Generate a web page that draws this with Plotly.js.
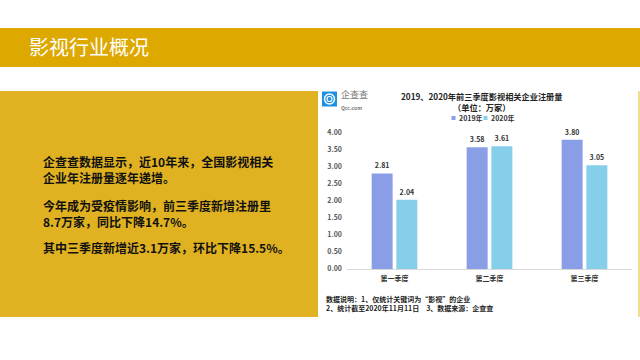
<!DOCTYPE html>
<html><head><meta charset="utf-8">
<script src="https://cdn.plot.ly/plotly-3.0.1.min.js"></script>
<style>html,body{margin:0;padding:0;background:#fff}#chart{width:640px;height:360px}</style>
</head><body><div id="chart"></div>
<script>
const categories = ['第一季度', '第二季度', '第三季度'];
const series2019 = [2.81, 3.58, 3.80];
const series2020 = [2.04, 3.61, 3.05];
const seriesNames = ['2019年', '2020年'];
const yTickVals = [0, 0.5, 1, 1.5, 2, 2.5, 3, 3.5, 4];
const chartTitle = '2019、2020年前三季度影视相关企业注册量';
const chartSubtitle = '（单位：万家）';
const slideTitle = '影视行业概况';
const bodyParagraphs = [
  ['企查查数据显示，近10年来，全国影视相关', '企业年注册量逐年递增。'],
  ['今年成为受疫情影响，前三季度新增注册里', '8.7万家，同比下降14.7%。'],
  ['其中三季度新增近3.1万家，环比下降15.5%。']
];
const noteLines = [
  '数据说明：1、仅统计关键词为“影视”的企业',
  '2、统计截至2020年11月11日　3、数据来源：企查查'
];

const W = 640, H = 360;
const px = x => x / W;
const py = y => 1 - y / H;
const colors = ['#8A9EE8', '#86CFEB'];
const FONT = '"Noto Sans CJK SC", "Noto Sans", sans-serif';

const traces = [
  {type: 'bar', name: seriesNames[0], x: categories, y: series2019,
   marker: {color: colors[0]}, text: series2019.map(v => v.toFixed(2)),
   textposition: 'outside', cliponaxis: false,
   textfont: {family: FONT, size: 7, color: '#333', weight: 'bold'}, hoverinfo: 'none'},
  {type: 'bar', name: seriesNames[1], x: categories, y: series2020,
   marker: {color: colors[1]}, text: series2020.map(v => v.toFixed(2)),
   textposition: 'outside', cliponaxis: false,
   textfont: {family: FONT, size: 7, color: '#333', weight: 'bold'}, hoverinfo: 'none'}
];

const shapes = [
  {type: 'rect', xref: 'paper', yref: 'paper', x0: 0, x1: 1, y0: py(67), y1: py(28),
   fillcolor: '#DDA800', line: {width: 0}, layer: 'below'},
  {type: 'rect', xref: 'paper', yref: 'paper', x0: 0, x1: px(318), y0: py(317), y1: py(91),
   fillcolor: '#E0B222', line: {width: 0}, layer: 'below'},
  {type: 'line', xref: 'paper', yref: 'paper', x0: px(639), x1: px(639), y0: py(317), y1: py(91),
   line: {color: '#E8D46A', width: 1.5}, layer: 'below'},
  // logo
  {type: 'rect', xref: 'paper', yref: 'paper', x0: px(322), x1: px(337), y0: py(106.5), y1: py(91.5),
   fillcolor: '#1E90E2', line: {width: 0}},
  {type: 'circle', xref: 'paper', yref: 'paper', x0: px(324.5), x1: px(334.5), y0: py(104), y1: py(94),
   line: {color: '#fff', width: 1.4}},
  {type: 'circle', xref: 'paper', yref: 'paper', x0: px(327), x1: px(332), y0: py(101.5), y1: py(96.5),
   line: {color: '#fff', width: 1.2}},
  // legend swatches
  {type: 'rect', xref: 'paper', yref: 'paper', x0: px(451.5), x1: px(455.5), y0: py(120), y1: py(116),
   fillcolor: colors[0], line: {width: 0}},
  {type: 'rect', xref: 'paper', yref: 'paper', x0: px(483.5), x1: px(487.5), y0: py(120), y1: py(116),
   fillcolor: colors[1], line: {width: 0}}
];

const ann = (x, y, text, opts = {}) => Object.assign({
  xref: 'paper', yref: 'paper', x: px(x), y: py(y), text: text, showarrow: false,
  xanchor: 'left', yanchor: 'middle', align: 'left'
}, opts);

const bodyY = [169, 213, 247];
const bodyFont = {family: FONT, size: 12, color: '#111', weight: 'bold'};
const smallBold = (size, color) => ({family: FONT, size: size, color: color, weight: 'bold'});

const annotations = [
  ann(27, 46.5, slideTitle, {font: {family: FONT, size: 20, color: '#fff'}}),
  ...bodyParagraphs.map((p, i) => ann(41, bodyY[i], p.join('<br>'), {font: bodyFont})),
  ann(481, 101, chartTitle + '<br>' + chartSubtitle,
      {xanchor: 'center', align: 'center', font: smallBold(8.2, '#222')}),
  ann(456.5, 118, seriesNames[0], {font: smallBold(7, '#333')}),
  ann(488.5, 118, seriesNames[1], {font: smallBold(7, '#333')}),
  ann(339, 99, '企查查<br><span style="font-size:5px;font-weight:bold">Qcc.com</span>',
      {font: {family: FONT, size: 9, color: '#777'}}),
  ann(324, 303.5, noteLines.join('<br>'), {font: smallBold(7, '#222')})
];

const layout = {
  width: W, height: H,
  margin: {l: 0, r: 0, t: 0, b: 0},
  paper_bgcolor: '#ffffff', plot_bgcolor: 'rgba(0,0,0,0)',
  showlegend: false,
  barmode: 'group', bargap: 0.48, bargroupgap: 0.15,
  xaxis: {
    domain: [px(347), px(632)], type: 'category',
    showline: true, linecolor: '#D9D9D9', linewidth: 1,
    showgrid: false, zeroline: false, ticks: '',
    ticklabelstandoff: 3,
    tickfont: smallBold(7, '#333')
  },
  yaxis: {
    domain: [1 - 269 / H, 1 - 133 / H], range: [0, 4],
    tickvals: yTickVals, ticktext: yTickVals.map(v => v.toFixed(2)),
    showgrid: false, zeroline: false, showline: false, ticks: '',
    ticklabelstandoff: 4,
    tickfont: smallBold(7, '#555')
  },
  shapes: shapes,
  annotations: annotations,
  font: {family: FONT}
};

Plotly.newPlot('chart', traces, layout, {staticPlot: true, displayModeBar: false});
</script>
</body></html>
